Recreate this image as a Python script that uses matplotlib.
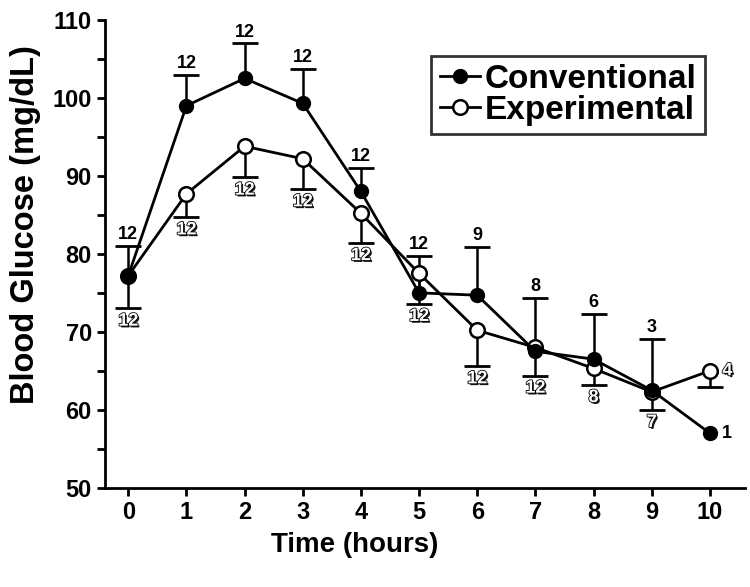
import numpy as np
import matplotlib.pyplot as plt
import matplotlib.patheffects as pe

plt.rcParams['font.family'] = ['Liberation Sans', 'DejaVu Sans']
plt.rcParams['font.weight'] = 'bold'

# Zeit in Stunden
hours = [0, 1, 2, 3, 4, 5, 6, 7, 8, 9, 10]

# Conventional: Mittelwert, obere Fehlergrenze, n
conv_mean = [77.2, 99.0, 102.5, 99.3, 88.0, 75.0, 74.7, 67.5, 66.5, 62.5, 57.0]
conv_upper = [81.0, 103.0, 107.0, 103.7, 91.0, 79.7, 80.9, 74.4, 72.3, 69.1, 57.0]
conv_n = [12, 12, 12, 12, 12, 12, 9, 8, 6, 3, 1]

# Experimental: Mittelwert, untere Fehlergrenze, n
exp_mean = [77.2, 87.7, 93.8, 92.2, 85.2, 77.5, 70.2, 68.0, 65.3, 62.3, 65.0]
exp_lower = [73.0, 84.7, 89.8, 88.3, 81.4, 73.6, 65.6, 64.4, 63.2, 60.0, 62.9]
exp_n = [12, 12, 12, 12, 12, 12, 12, 12, 8, 7, 4]

x = np.array(hours)
cm = np.array(conv_mean)
em = np.array(exp_mean)

fig = plt.figure(figsize=(7.5, 5.87), dpi=100)
ax = fig.add_axes([0.14, 0.169, 0.853, 0.797])

# einseitige Fehlerbalken (nur Strich + eine Kappe)
has_cbar = np.array(conv_upper) > cm
ax.vlines(x[has_cbar], cm[has_cbar], np.array(conv_upper)[has_cbar], color='black', lw=1.8, zorder=2)
ax.plot(x[has_cbar], np.array(conv_upper)[has_cbar], '_', color='black', ms=19, mew=2, zorder=2)
ax.vlines(x, exp_lower, em, color='black', lw=1.8, zorder=2)
ax.plot(x, exp_lower, '_', color='black', ms=19, mew=2, zorder=2)

h_exp, = ax.plot(x, em, '-o', color='black', lw=2, ms=10.5, mfc='white',
                 mec='black', mew=1.8, zorder=3, label='Experimental')
h_conv, = ax.plot(x, cm, '-o', color='black', lw=2, ms=10, mfc='black',
                  mec='black', zorder=4, label='Conventional')

# n-Beschriftungen
shadow = [pe.withSimplePatchShadow(offset=(1.3, -1.3), shadow_rgbFace='black', alpha=0.9),
          pe.Stroke(linewidth=1.2, foreground='black'), pe.Normal()]
for i in range(len(hours)):
    if i == len(hours) - 1:
        ax.annotate(str(conv_n[i]), (x[i], cm[i]), xytext=(9, 0), textcoords='offset points',
                    ha='left', va='center', fontsize=13, fontweight='bold')
        ax.annotate(str(exp_n[i]), (x[i], em[i]), xytext=(9, 0), textcoords='offset points',
                    ha='left', va='center', fontsize=13, fontweight='bold',
                    color='white', path_effects=shadow)
        continue
    ax.annotate(str(conv_n[i]), (x[i], conv_upper[i]), xytext=(0, 2), textcoords='offset points',
                ha='center', va='bottom', fontsize=13, fontweight='bold')
    ax.annotate(str(exp_n[i]), (x[i], exp_lower[i]), xytext=(0, -3), textcoords='offset points',
                ha='center', va='top', fontsize=13, fontweight='bold',
                color='white', path_effects=shadow)

ax.set_xlim(-0.4, 10.6)
ax.set_ylim(50, 110)
ax.set_xticks(hours)
ax.set_yticks(np.arange(50, 111, 10))
ax.set_yticks(np.arange(55, 110, 10), minor=True)
for s in ['top', 'right']:
    ax.spines[s].set_visible(False)
for s in ['left', 'bottom']:
    ax.spines[s].set_linewidth(2)
ax.tick_params(axis='both', which='major', width=2, length=6, labelsize=17, direction='out')
ax.tick_params(axis='y', which='minor', width=2, length=6)
for lab in ax.get_xticklabels() + ax.get_yticklabels():
    lab.set_fontweight('bold')

ax.set_xlabel('Time (hours)', fontsize=20, fontweight='bold')
ax.xaxis.set_label_coords(0.39, -0.095)
ax.set_ylabel('Blood Glucose (mg/dL)', fontsize=23.5, fontweight='bold')
ax.yaxis.set_label_coords(-0.1, 0.562)

leg = fig.legend([h_conv, h_exp], ['Conventional', 'Experimental'], loc='upper right',
                 bbox_to_anchor=(0.94, 0.905), borderaxespad=0, frameon=True, fancybox=False,
                 handlelength=1.2, handletextpad=0.15, borderpad=0.25, labelspacing=0.0,
                 prop={'weight': 'bold', 'size': 24})
leg.get_frame().set_edgecolor('black')
leg.get_frame().set_linewidth(2)

fig.savefig('out.png', dpi=100)
